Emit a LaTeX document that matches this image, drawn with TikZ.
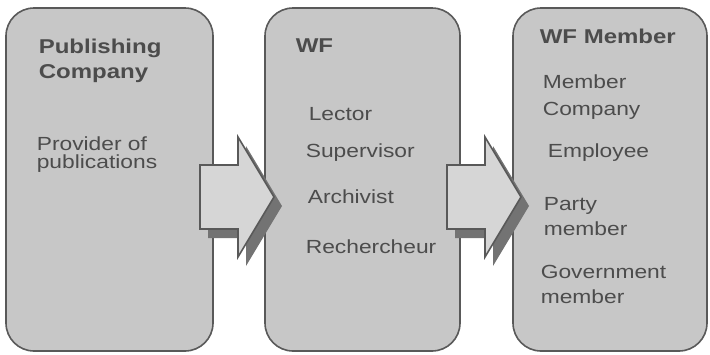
\documentclass[tikz,border=0pt]{standalone}
\usepackage{fontspec}
\setmainfont{Liberation Sans}[FakeStretch=1.2]
\begin{document}
\begin{tikzpicture}[x=1pt,y=-1pt,line width=1.6pt,
  panel/.style={draw=black!65,fill=black!22,rounded corners=28pt,minimum width=#1,minimum height=343pt,inner sep=0pt},
  txt/.style={anchor=base west,inner sep=0pt,text=black!70,align=left,font=\fontsize{19}{25}\selectfont},
  head/.style={txt,font=\bfseries\fontsize{20}{25}\selectfont}]
  \useasboundingbox (0,0) rectangle (710,354);
  \node[panel=207pt] (pub) at (109.5,179.5) {};
  \node[panel=195pt] (wf) at (362.5,179.5) {};
  \node[panel=194pt] (mem) at (610,179.5) {};
  % block arrows with shadow
  \foreach \x in {200,447}{
    \fill[black!55,shift={(8,9)}] (\x,165) -- (\x+38,165) -- (\x+38,137) -- (\x+74,197)
      -- (\x+38,257) -- (\x+38,229) -- (\x,229) -- cycle;
    \draw[black!65,fill=black!16] (\x,165) -- (\x+38,165) -- (\x+38,137) -- (\x+74,197)
      -- (\x+38,257) -- (\x+38,229) -- (\x,229) -- cycle;}
  % multi-line nodes sit on the baseline of their last line
  \node[head] (pubt) at (38,78) {Publishing\\Company};
  \node[txt,font=\fontsize{19}{18}\selectfont] (prov) at (36,168) {Provider of\\publications};
  \node[head] (wft) at (295,52) {WF};
  \node[txt] (lec) at (308,120) {Lector};
  \node[txt] (sup) at (305,157) {Supervisor};
  \node[txt] (arc) at (307,203) {Archivist};
  \node[txt] (rec) at (305,253) {Rechercheur};
  \node[head] (memt) at (539,43) {WF Member};
  \node[txt,font=\fontsize{19}{27}\selectfont] (mco) at (542,115) {Member\\Company};
  \node[txt] (emp) at (547,157) {Employee};
  \node[txt] (par) at (543,235) {Party\\member};
  \node[txt] (gov) at (540,303) {Government\\member};
\end{tikzpicture}
\end{document}
